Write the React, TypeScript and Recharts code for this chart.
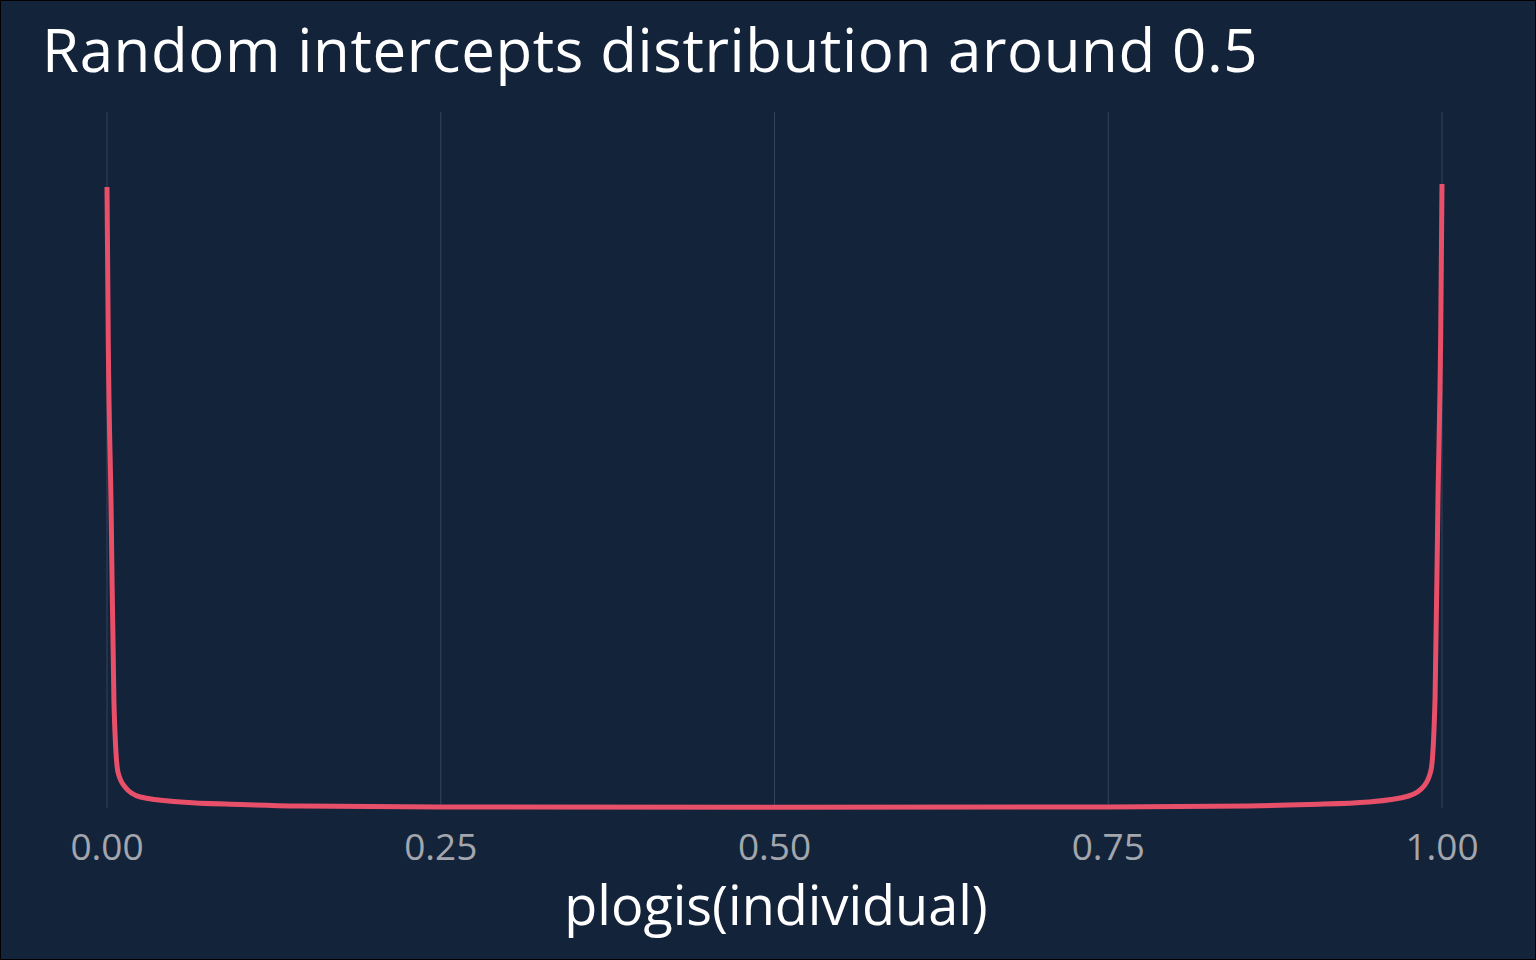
import React from "react";
import { LineChart, Line, XAxis, YAxis, CartesianGrid } from "recharts";

// density of plogis(individual)
const xs = [0, 0.001, 0.003, 0.0052, 0.0082, 0.0135, 0.025, 0.055, 0.1, 0.145, 0.25, 0.5, 0.75, 0.855, 0.9, 0.945, 0.975, 0.9865, 0.9918, 0.9948, 0.997, 0.999, 1];
const density = [6.21, 4.6, 3.06, 1.06, 0.36, 0.21, 0.11, 0.06, 0.035, 0.02, 0.01, 0.008, 0.01, 0.02, 0.035, 0.06, 0.12, 0.22, 0.38, 1.1, 3.1, 4.7, 6.24];
const ticks = [0, 0.25, 0.5, 0.75, 1];

const data = xs.map((x, i) => ({ x, y: density[i] }));

export default function App() {
  return (
    <div style={{ position: "relative", width: 1536, height: 960, background: "#13233a", boxSizing: "border-box", border: "1px solid #000", fontFamily: "'Open Sans', 'Noto Sans', sans-serif" }}>
      <style>{"body{margin:0}"}</style>
      <div style={{ position: "absolute", left: 41, top: 10, color: "#fff", fontSize: 60, lineHeight: "76px", letterSpacing: 0.6 }}>
        Random intercepts distribution around 0.5
      </div>
      <LineChart width={1534} height={958} data={data} margin={{ top: 111, right: 93, left: 106, bottom: 0 }}>
        <CartesianGrid horizontal={false} stroke="#33445c" />
        <XAxis
          dataKey="x"
          type="number"
          domain={[0, 1]}
          ticks={ticks}
          tickFormatter={(v: number) => v.toFixed(2)}
          axisLine={false}
          tickLine={false}
          height={151}
          tick={{ fill: "#a3a6ad", fontSize: 37 }}
          dy={18}
        />
        <YAxis hide domain={[0, 6.96]} />
        <Line dataKey="y" type="monotone" stroke="#e8506a" strokeWidth={5} dot={false} isAnimationActive={false} />
      </LineChart>
      <div style={{ position: "absolute", left: 0, width: 1550, textAlign: "center", top: 866, color: "#fff", fontSize: 54 }}>
        plogis(individual)
      </div>
    </div>
  );
}
